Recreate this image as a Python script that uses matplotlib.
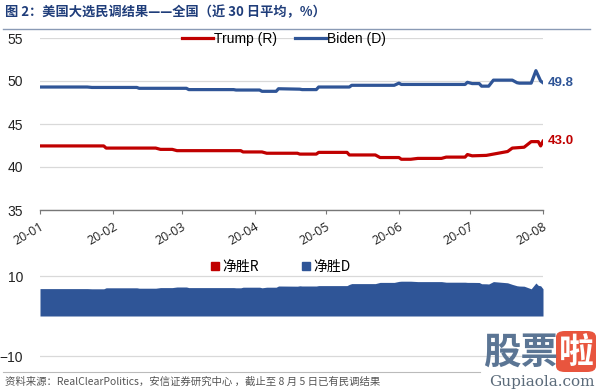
import matplotlib
matplotlib.use("Agg")
import matplotlib.pyplot as plt
import numpy as np
from matplotlib.patches import FancyBboxPatch
from matplotlib.lines import Line2D

plt.rcParams['font.family'] = ['Liberation Sans', 'Noto Sans CJK SC', 'DejaVu Sans']

# ---------------- data ----------------
biden_dates = ['2020-01-01', '2020-01-21', '2020-01-23', '2020-02-11', '2020-02-12', '2020-03-03',
               '2020-03-04', '2020-03-23', '2020-03-24', '2020-04-03', '2020-04-04', '2020-04-10',
               '2020-04-11', '2020-04-20', '2020-04-21', '2020-04-27', '2020-04-28', '2020-05-11',
               '2020-05-12', '2020-05-30', '2020-06-01', '2020-06-02', '2020-06-29', '2020-06-30',
               '2020-07-02', '2020-07-05', '2020-07-06', '2020-07-09', '2020-07-11', '2020-07-19',
               '2020-07-21', '2020-07-22', '2020-07-27', '2020-07-29', '2020-07-31', '2020-08-01']
biden_vals = [49.3, 49.3, 49.25, 49.25, 49.15, 49.15,
              49.0, 49.0, 48.95, 48.95, 48.8, 48.8,
              49.1, 49.05, 49.0, 49.0, 49.3, 49.3,
              49.5, 49.5, 49.75, 49.6, 49.6, 49.85,
              49.7, 49.7, 49.4, 49.4, 50.1, 50.1,
              49.8, 49.75, 49.75, 51.2, 50.0, 49.8]

trump_dates = ['2020-01-01', '2020-01-28', '2020-01-29', '2020-02-19', '2020-02-21', '2020-02-26',
               '2020-02-28', '2020-03-26', '2020-03-27', '2020-04-04', '2020-04-06', '2020-04-19',
               '2020-04-20', '2020-04-27', '2020-04-28', '2020-05-10', '2020-05-11', '2020-05-22',
               '2020-05-24', '2020-06-01', '2020-06-02', '2020-06-06', '2020-06-09', '2020-06-19',
               '2020-06-21', '2020-06-29', '2020-06-30', '2020-07-02', '2020-07-08', '2020-07-13',
               '2020-07-17', '2020-07-19', '2020-07-24', '2020-07-27', '2020-07-30', '2020-07-31',
               '2020-08-01']
trump_vals = [42.45, 42.45, 42.2, 42.2, 42.05, 42.05,
              41.9, 41.9, 41.75, 41.75, 41.6, 41.6,
              41.5, 41.5, 41.7, 41.7, 41.4, 41.4,
              41.1, 41.1, 40.9, 40.9, 41.0, 41.0,
              41.15, 41.15, 41.45, 41.3, 41.35, 41.6,
              41.8, 42.2, 42.3, 42.95, 42.95, 42.45,
              43.0]

month_ticks = ['2020-01-01', '2020-02-01', '2020-03-01', '2020-04-01',
               '2020-05-01', '2020-06-01', '2020-07-01', '2020-08-01']
month_labels = ['20-01', '20-02', '20-03', '20-04', '20-05', '20-06', '20-07', '20-08']
top_yticks = [35, 40, 45, 50, 55]
bottom_yticks = [-10, 10]

title = '图 2：美国大选民调结果——全国（近 30 日平均，%）'
source = '资料来源：RealClearPolitics，安信证券研究中心 ，截止至 8 月 5 日已有民调结果'

RED = '#C00000'
BLUE = '#2F5597'

bd = np.array(biden_dates, dtype='datetime64[D]')
td = np.array(trump_dates, dtype='datetime64[D]')
bv = np.array(biden_vals)
tv = np.array(trump_vals)
mt = np.array(month_ticks, dtype='datetime64[D]')

# net margin on a shared calendar (values carried from the two series)
all_days = np.union1d(bd, td)
b_on = np.interp(all_days.astype(float), bd.astype(float), bv)
t_on = np.interp(all_days.astype(float), td.astype(float), tv)
net_d = np.clip(b_on - t_on, 0, None)
net_r = np.clip(t_on - b_on, 0, None)

W, H = 600, 391
fig = plt.figure(figsize=(W / 100, H / 100), dpi=100)

def fx(px):
    return px / W

def fy(py):
    return 1 - py / H

# ---------------- top chart ----------------
ax = fig.add_axes([fx(40), fy(210), fx(543 - 40), (210 - 38) / H])
ax.plot(td, tv, color=RED, lw=2.3, label='Trump (R)', solid_joinstyle='round')
ax.plot(bd, bv, color=BLUE, lw=2.3, label='Biden (D)', solid_joinstyle='round')
ax.set_ylim(35, 55)
ax.set_xlim(mt[0], mt[-1])
ax.set_yticks(top_yticks)
ax.set_xticks(mt)
ax.set_xticklabels(month_labels, rotation=30, ha='right', rotation_mode='anchor',
                   fontsize=9, color='#222222', family=['Open Sans', 'DejaVu Sans'])
ax.tick_params(axis='x', direction='out', length=3, color='#777777', pad=4)
ax.tick_params(axis='y', length=0, labelsize=10, labelcolor='#222222', pad=12)
ax.yaxis.grid(True, color='#D9D9D9', lw=0.9)
ax.set_axisbelow(True)
for s in ['top', 'right', 'left']:
    ax.spines[s].set_visible(False)
ax.spines['bottom'].set_color('#777777')
ax.spines['bottom'].set_linewidth(1.0)
ax.text(bd[-1] + np.timedelta64(2, 'D'), bv[-1], f'{bv[-1]:.1f}', color=BLUE,
        fontsize=9.5, fontweight='bold', va='center', ha='left', clip_on=False)
ax.text(td[-1] + np.timedelta64(2, 'D'), tv[-1], f'{tv[-1]:.1f}', color=RED,
        fontsize=9.5, fontweight='bold', va='center', ha='left', clip_on=False)
ax.legend(loc='center', bbox_to_anchor=(fx(284), fy(39)), bbox_transform=fig.transFigure,
          ncol=2, frameon=False, fontsize=10, handlelength=2.2, handletextpad=0.1,
          columnspacing=1.3)

# ---------------- bottom chart ----------------
ax2 = fig.add_axes([fx(40), fy(364), fx(543 - 40), 100 / H])
ax2.fill_between(all_days, 0, net_r, color=RED, lw=0, label='净胜R')
ax2.fill_between(all_days, 0, net_d, color=BLUE, lw=0, label='净胜D')
ax2.set_ylim(-12, 13)
ax2.set_xlim(mt[0], mt[-1])
ax2.set_yticks(bottom_yticks)
ax2.set_xticks([])
ax2.tick_params(axis='y', length=0, labelsize=10, labelcolor='#222222', pad=12)
ax2.yaxis.grid(True, color='#D9D9D9', lw=0.9)
ax2.set_axisbelow(True)
for s in ['top', 'right', 'left', 'bottom']:
    ax2.spines[s].set_visible(False)
handles = [Line2D([], [], marker='s', ls='', color=RED, markersize=5.5),
           Line2D([], [], marker='s', ls='', color=BLUE, markersize=5.5)]
ax2.legend(handles, ['净胜R', '净胜D'], loc='center', bbox_to_anchor=(fx(280), fy(267)),
           bbox_transform=fig.transFigure, ncol=2, frameon=False,
           prop={'family': ['Noto Sans CJK SC', 'DejaVu Sans'], 'size': 10},
           handlelength=0.8, handletextpad=0.1, columnspacing=3.0)

# ---------------- title / decorations ----------------
fig.text(fx(5), fy(12), title, color='#1F3D7A', fontsize=9.5, fontweight='bold',
         va='center', ha='left', family=['Noto Sans CJK SC', 'DejaVu Sans'])
fig.add_artist(Line2D([fx(3), fx(590)], [fy(29), fy(29)], color='#8A9AB5', lw=1.0))
fig.add_artist(Line2D([fx(3), fx(480)], [fy(372), fy(372)], color='#BBBBBB', lw=0.8))
fig.text(fx(5), fy(382), source, color='#555555', fontsize=7.5, style='italic',
         va='center', ha='left', family=['Noto Sans CJK SC', 'DejaVu Sans'])

# watermark
fig.text(fx(483), fy(352), '股票', color='#5B7594', fontsize=27, fontweight='bold',
         va='center', ha='left', family=['Noto Sans CJK SC'])
fig.add_artist(FancyBboxPatch((fx(556), fy(372)), fx(40), (372 - 331) / H,
                              boxstyle='round,pad=0,rounding_size=0.015',
                              transform=fig.transFigure, facecolor='#E8553E', edgecolor='none'))
fig.text(fx(576), fy(352), '啦', color='white', fontsize=25, fontweight='bold',
         va='center', ha='center', family=['Noto Sans CJK SC'])
fig.text(fx(542), fy(382), 'Gupiaola.com', color='#5B6B7A', fontsize=11,
         va='center', ha='center', family=['DejaVu Serif'])

fig.savefig('out.png', dpi=100)
